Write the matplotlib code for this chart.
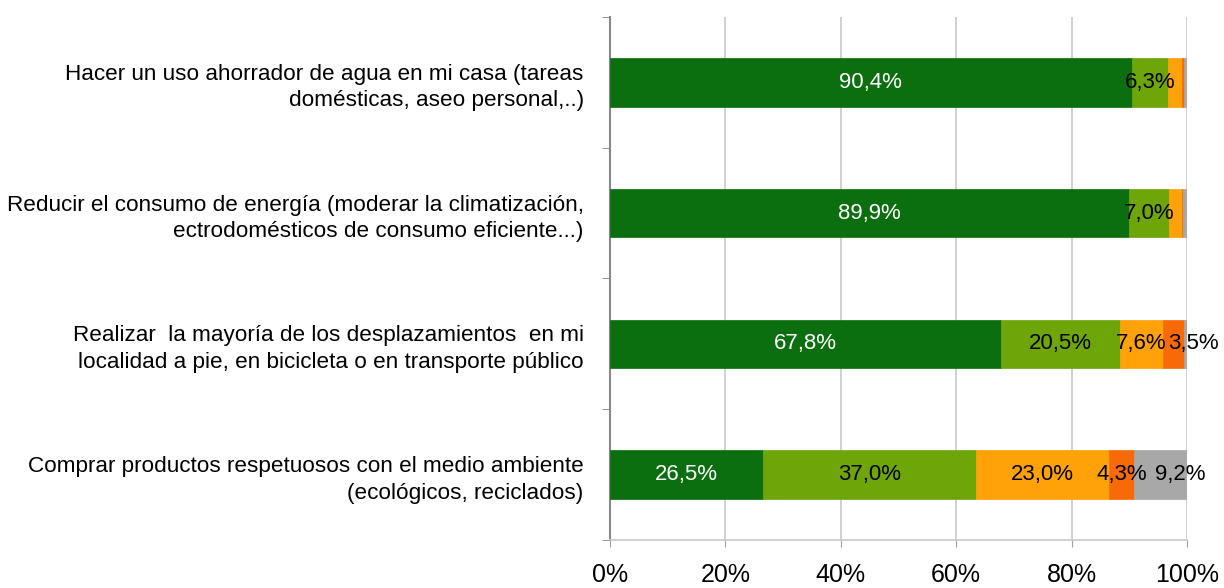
import numpy as np
import matplotlib.pyplot as plt

plt.rcParams['font.family'] = ['Liberation Sans', 'DejaVu Sans']

# categorias, de arriba a abajo
categorias = [
    "Hacer un uso ahorrador de agua en mi casa (tareas\ndomésticas, aseo personal,..)",
    "Reducir el consumo de energía (moderar la climatización,\nectrodomésticos de consumo eficiente...)",
    "Realizar  la mayoría de los desplazamientos  en mi\nlocalidad a pie, en bicicleta o en transporte público",
    "Comprar productos respetuosos con el medio ambiente\n(ecológicos, reciclados)",
]

# porcentajes por segmento (siempre, casi siempre, a veces, casi nunca, nunca)
seg1 = [90.4, 89.9, 67.8, 26.5]
seg2 = [6.3, 7.0, 20.5, 37.0]
seg3 = [2.5, 2.2, 7.6, 23.0]
seg4 = [0.2, 0.2, 3.5, 4.3]
seg5 = [0.6, 0.7, 0.6, 9.2]

# etiquetas visibles (None = sin etiqueta)
etq1 = ["90,4%", "89,9%", "67,8%", "26,5%"]
etq2 = ["6,3%", "7,0%", "20,5%", "37,0%"]
etq3 = [None, None, "7,6%", "23,0%"]
etq4 = [None, None, "3,5%", "4,3%"]
etq5 = [None, None, None, "9,2%"]

colores = ['#0b6e0f', '#6ea509', '#ffa20a', '#f86a08', '#a8a8a8']
col_txt = ['white', 'black', 'black', 'black', 'black']

fig = plt.figure(figsize=(12.24, 5.88), dpi=100)
ax = fig.add_axes([0.4984, 0.082, 0.4714, 0.889])

y = np.arange(len(categorias))[::-1]
segs = [seg1, seg2, seg3, seg4, seg5]
etqs = [etq1, etq2, etq3, etq4, etq5]
left = np.zeros(len(categorias))
for k, (vals, labs) in enumerate(zip(segs, etqs)):
    vals = np.array(vals)
    ax.barh(y, vals, left=left, height=0.37, color=colores[k],
            edgecolor=colores[k], linewidth=0.5, zorder=3)
    for i in range(len(categorias)):
        if labs[i] is None:
            continue
        xc = left[i] + vals[i] / 2
        # Excel desplazó un poco las últimas etiquetas
        if (k == 3 and i == 2) or (k == 4 and i == 3):
            xc += 3.5
        ax.text(xc, y[i], labs[i], ha='center', va='center', fontsize=16,
                color=col_txt[k], zorder=4)
    left += vals

ax.set_xlim(0, 100)
ax.set_ylim(-0.5, 3.5)
ax.set_xticks(np.arange(0, 101, 20))
ax.set_xticklabels([f"{v}%" for v in range(0, 101, 20)], fontsize=18)
ax.tick_params(axis='x', length=5, color='#a0a0a0', pad=12)
ax.xaxis.grid(True, color='#c8c8c8', linewidth=1.2, zorder=0)

ax.set_yticks(y)
ax.set_yticklabels(categorias, fontsize=16.2, linespacing=1.35)
ax.tick_params(axis='y', length=0, pad=19)
ax.set_yticks(np.arange(-0.5, 3.6, 1), minor=True)
ax.tick_params(axis='y', which='minor', length=6, color='#888888')

for s in ['top', 'right']:
    ax.spines[s].set_visible(False)
ax.spines['left'].set_color('#888888')
ax.spines['left'].set_linewidth(1.5)
ax.spines['bottom'].set_color('#c8c8c8')
ax.spines['bottom'].set_linewidth(1.2)

fig.savefig('out.png', dpi=100)
